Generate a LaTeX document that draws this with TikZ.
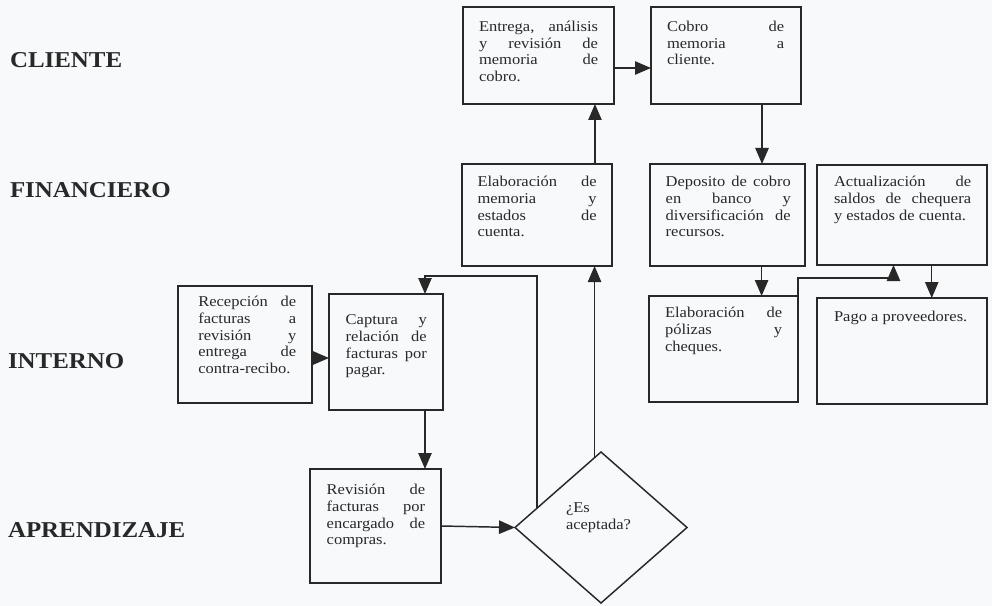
\documentclass[tikz,border=0pt]{standalone}
\usepackage{fontspec}
\setmainfont{Liberation Serif}[FakeStretch=1.1]
\usetikzlibrary{arrows.meta,calc,fit,shapes.geometric}
\definecolor{ink}{RGB}{40,40,40}
\definecolor{paper}{RGB}{247,249,251}
\begin{document}
\begin{tikzpicture}[x=0.75pt, y=-0.75pt,
  box/.style={draw=ink, line width=1.1pt, inner sep=0pt, outer sep=0pt},
  txt/.style={anchor=north west, inner sep=0pt, outer sep=0pt, text=ink, align=justify,
    font=\fontsize{11.25}{12.5}\selectfont,
    execute at begin node={\noindent\hyphenpenalty=10000 \exhyphenpenalty=10000 \tolerance=10000 \hbadness=10000 \strut}},
  lane/.style={anchor=base west, inner sep=0pt, outer sep=0pt, text=ink,
    font=\fontsize{17}{20}\selectfont\bfseries},
  arr/.style={draw=ink, line width=1.1pt, -{Triangle[length=12pt,width=10pt]}},
]
% page
\fill[paper] (0,0) rectangle (992,606);

% lane titles
\node[lane] (l1) at (10,68)  {CLIENTE};
\node[lane] (l2) at (10,198) {FINANCIERO};
\node[lane] (l3) at (8,368)  {INTERNO};
\node[lane] (l4) at (8,537)  {APRENDIZAJE};

% process boxes
\node[box, fit={(463,7) (614,104)}]   (A)    {};
\node[box, fit={(651,7) (801,104)}]   (B)    {};
\node[box, fit={(462,164) (612,266)}] (E)    {};
\node[box, fit={(650,164) (805,266)}] (D)    {};
\node[box, fit={(817,165) (987,265)}] (Act)  {};
\node[box, fit={(649,296) (798,402)}] (P)    {};
\node[box, fit={(817,298) (987,404)}] (Pago) {};
\node[box, fit={(178,286) (312,403)}] (R)    {};
\node[box, fit={(329,294) (443,410)}] (C)    {};
\node[box, fit={(310,469) (441,583)}] (Rv)   {};
\node[diamond, draw=ink, line width=1.1pt, inner sep=0pt, outer sep=0pt,
      minimum width=129pt, minimum height=113.25pt] (Q) at (601,527.5) {};

% box texts
\node[txt, text width=89.3pt] (At) at ($(A.north west)+(16,13)$)
  {Entrega, análisis\linebreak y revisión de\linebreak memoria de\linebreak cobro.};
\node[txt, text width=87.8pt] (Bt) at ($(B.north west)+(16,13)$)
  {Cobro de\linebreak memoria a\linebreak cliente.};
\node[txt, text width=89.3pt] (Et) at ($(E.north west)+(15.5,11)$)
  {Elaboración de\linebreak memoria y\linebreak estados de\linebreak cuenta.};
\node[txt, text width=93.8pt] (Dt) at ($(D.north west)+(15.7,11)$)
  {Deposito de cobro\linebreak en banco y\linebreak diversificación de\linebreak recursos.};
\node[txt, text width=102.8pt] (Actt) at ($(Act.north west)+(17,10)$)
  {Actualización de\linebreak saldos de chequera\linebreak y estados de cuenta.};
\node[txt, text width=87.8pt] (Pt) at ($(P.north west)+(16,10.3)$)
  {Elaboración de\linebreak pólizas y\linebreak cheques.};
\node[txt, text width=102.8pt] (Pagot) at ($(Pago.north west)+(17,12)$)
  {Pago a proveedores.};
\node[txt, text width=73.5pt] (Rt) at ($(R.north west)+(20.3,9)$)
  {Recepción de\linebreak facturas a\linebreak revisión y\linebreak entrega de\linebreak contra-recibo.};
\node[txt, text width=60.8pt] (Ct) at ($(C.north west)+(16.7,19.3)$)
  {Captura y\linebreak relación de\linebreak facturas por\linebreak pagar.};
\node[txt, text width=73.9pt] (Rvt) at ($(Rv.north west)+(16.7,14.3)$)
  {Revisión de\linebreak facturas por\linebreak encargado de\linebreak compras.};
\node[txt, align=left, text width=70pt] (Qt) at ($(Q.west)+(51,-26.2)$)
  {¿Es\\aceptada?};

% connectors
\coordinate (ab) at ($(A.east)+(0,12.5)$);
\draw[arr] (ab) -- (ab -| B.west);

\coordinate (bd) at ($(B.south west)!0.74!(B.south east)$);
\draw[arr] (bd) -- (bd |- D.north);

\coordinate (dp) at ($(D.south west)!0.72!(D.south east)$);
\draw[arr] (dp) -- (dp |- P.north);

\coordinate (pa) at ($(Act.south west)!0.45!(Act.south east)$);
\draw[arr] (P.north east) -- ++(0,-18) -| (pa);

\coordinate (ap) at ($(Act.south west)!0.675!(Act.south east)$);
\draw[arr] (ap) -- (ap |- Pago.north);

\coordinate (ea) at ($(A.south west)!0.874!(A.south east)$);
\draw[arr] (ea |- E.north) -- (ea);

\coordinate (qe) at ($(Q.north)!0.075!(Q.west)$);
\draw[arr] (qe) -- (qe |- E.south);

\coordinate (qc) at ($(Q.west)!0.256!(Q.north)$);
\coordinate (cin) at ($(C.north west)!0.842!(C.north east)$);
\draw[arr] (qc) |- ($(cin)+(0,-18)$) -- (cin);

\coordinate (rc) at ($(R.east)+(0,13.5)$);
\draw[arr] (rc) -- (rc -| C.west);

\coordinate (cr) at ($(C.south west)!0.842!(C.south east)$);
\draw[arr] (cr) -- (cr |- Rv.north);

\draw[arr] (Rv.east) -- (Q.west);
\end{tikzpicture}
\end{document}
